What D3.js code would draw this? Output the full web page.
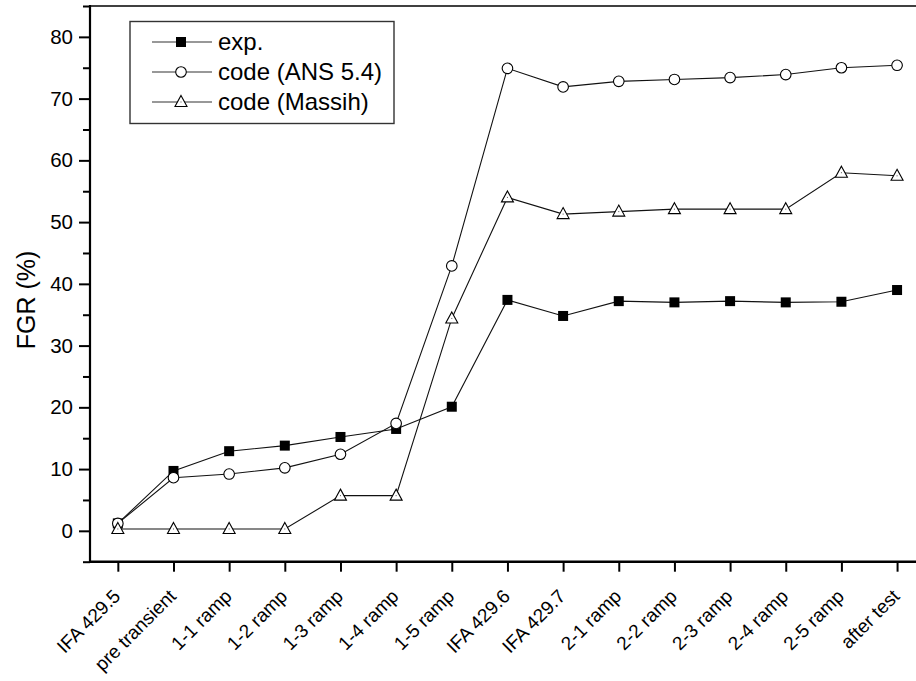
<!DOCTYPE html>
<html>
<head>
<meta charset="utf-8">
<script src="https://cdn.jsdelivr.net/npm/d3@7"></script>
<style>
  html, body { margin: 0; padding: 0; background: #fff; }
  svg { display: block; font-family: Arial, "Liberation Sans", sans-serif; }
</style>
</head>
<body>
<svg id="chart" width="916" height="681"></svg>
<script>
// Fission gas release per irradiation / ramp stage
const categories = ["IFA 429.5", "pre transient", "1-1 ramp", "1-2 ramp", "1-3 ramp", "1-4 ramp",
  "1-5 ramp", "IFA 429.6", "IFA 429.7", "2-1 ramp", "2-2 ramp", "2-3 ramp", "2-4 ramp", "2-5 ramp", "after test"];
const expValues     = [1.2, 9.7, 12.9, 13.8, 15.2, 16.5, 20.1, 37.4, 34.8, 37.2, 37.0, 37.2, 37.0, 37.1, 39.0];
const ansValues     = [1.2, 8.6, 9.2, 10.2, 12.4, 17.4, 42.9, 74.9, 71.9, 72.8, 73.1, 73.4, 73.9, 75.0, 75.4];
const massihValues  = [0.3, 0.3, 0.3, 0.3, 5.7, 5.7, 34.4, 54.0, 51.3, 51.7, 52.1, 52.1, 52.1, 58.0, 57.5];
const seriesNames   = ["exp.", "code (ANS 5.4)", "code (Massih)"];
const yTicks        = [0, 10, 20, 30, 40, 50, 60, 70, 80];
const yMinorTicks   = [-5, 5, 15, 25, 35, 45, 55, 65, 75, 85];
const yTitle        = "FGR (%)";

const svg = d3.select("#chart");
const plotLeft = 90, plotTop = 6, plotBottom = 561.7;

const x = d3.scaleLinear().domain([-0.5, 14.5]).range([plotLeft, plotLeft + 15 * 55.66]);
const y = d3.scaleLinear().domain([-5, 85]).range([plotBottom, plotTop]);

const series = [
  { name: seriesNames[0], values: expValues, shape: "square" },
  { name: seriesNames[1], values: ansValues, shape: "circle" },
  { name: seriesNames[2], values: massihValues, shape: "triangle" }
];

function drawMarker(g, shape, cx, cy) {
  if (shape === "square") {
    g.append("rect").attr("x", cx - 5).attr("y", cy - 5).attr("width", 10).attr("height", 10)
      .attr("fill", "#000");
  } else if (shape === "circle") {
    g.append("circle").attr("cx", cx).attr("cy", cy).attr("r", 5.3)
      .attr("fill", "#fff").attr("stroke", "#000").attr("stroke-width", 1.1);
  } else {
    g.append("path")
      .attr("d", `M${cx},${cy - 6.5}L${cx + 6},${cy + 4.5}L${cx - 6},${cy + 4.5}Z`)
      .attr("fill", "#fff").attr("stroke", "#000").attr("stroke-width", 1.1);
    g.append("rect").attr("x", cx - 0.5).attr("y", cy - 0.5).attr("width", 1).attr("height", 1)
      .attr("fill", "#555");
  }
}

// Lines first, markers on top
const line = d3.line().x((d, i) => x(i)).y(d => y(d));
series.forEach(s => {
  svg.append("path").datum(s.values).attr("d", line)
    .attr("fill", "none").attr("stroke", "#111").attr("stroke-width", 1.1);
});
series.forEach(s => {
  const g = svg.append("g");
  s.values.forEach((v, i) => drawMarker(g, s.shape, x(i), y(v)));
});

// Y axis
const yAxis = svg.append("g").attr("transform", `translate(${plotLeft},0)`)
  .call(d3.axisLeft(y).tickValues(yTicks).tickSize(11).tickPadding(6).tickFormat(d3.format("d")));
yAxis.select(".domain").remove();
yAxis.selectAll(".tick line").attr("stroke", "#000").attr("stroke-width", 2);
yAxis.selectAll(".tick text").attr("font-size", 20.5).attr("fill", "#000")
  .attr("font-family", "Arial, 'Liberation Sans', sans-serif");
const yMinor = svg.append("g").attr("transform", `translate(${plotLeft},0)`)
  .call(d3.axisLeft(y).tickValues(yMinorTicks).tickSize(7).tickFormat(""));
yMinor.select(".domain").remove();
yMinor.selectAll(".tick line").attr("stroke", "#000").attr("stroke-width", 2);
svg.append("line").attr("x1", plotLeft).attr("x2", plotLeft).attr("y1", plotTop - 1).attr("y2", plotBottom + 1)
  .attr("stroke", "#000").attr("stroke-width", 2.2);

// X axis
const xAxis = svg.append("g").attr("transform", `translate(0,${plotBottom})`)
  .call(d3.axisBottom(x).tickValues(d3.range(categories.length)).tickSize(10).tickFormat(""));
xAxis.select(".domain").remove();
xAxis.selectAll(".tick line").attr("stroke", "#000").attr("stroke-width", 2);
svg.append("line").attr("x1", plotLeft - 1).attr("x2", 916).attr("y1", plotBottom).attr("y2", plotBottom)
  .attr("stroke", "#000").attr("stroke-width", 2.4);
// Frame top
svg.append("line").attr("x1", plotLeft).attr("x2", 916).attr("y1", plotTop).attr("y2", plotTop)
  .attr("stroke", "#000").attr("stroke-width", 1.6);

// Rotated category labels
svg.append("g").selectAll("text").data(categories).join("text")
  .attr("transform", (d, i) => `translate(${x(i) - 1},${plotBottom + 31}) rotate(-45)`)
  .attr("text-anchor", "end")
  .attr("dy", "0.35em")
  .attr("font-size", 19)
  .attr("fill", "#000")
  .text(d => d);

// Y title
svg.append("text")
  .attr("transform", `translate(35,300) rotate(-90)`)
  .attr("text-anchor", "middle")
  .attr("font-size", 25)
  .attr("fill", "#000")
  .text(yTitle);

// Legend
const lg = svg.append("g");
lg.append("rect").attr("x", 130).attr("y", 21.5).attr("width", 264).attr("height", 102)
  .attr("fill", "#fff").attr("stroke", "#333").attr("stroke-width", 1.4);
series.forEach((s, k) => {
  const ly = 42 + k * 30;
  lg.append("line").attr("x1", 152).attr("x2", 212).attr("y1", ly).attr("y2", ly)
    .attr("stroke", "#333").attr("stroke-width", 1.1);
  drawMarker(lg, s.shape, 181, ly);
  lg.append("text").attr("x", 218).attr("y", ly).attr("dy", "0.35em")
    .attr("font-size", 24).attr("fill", "#000").text(s.name);
});
</script>
</body>
</html>
